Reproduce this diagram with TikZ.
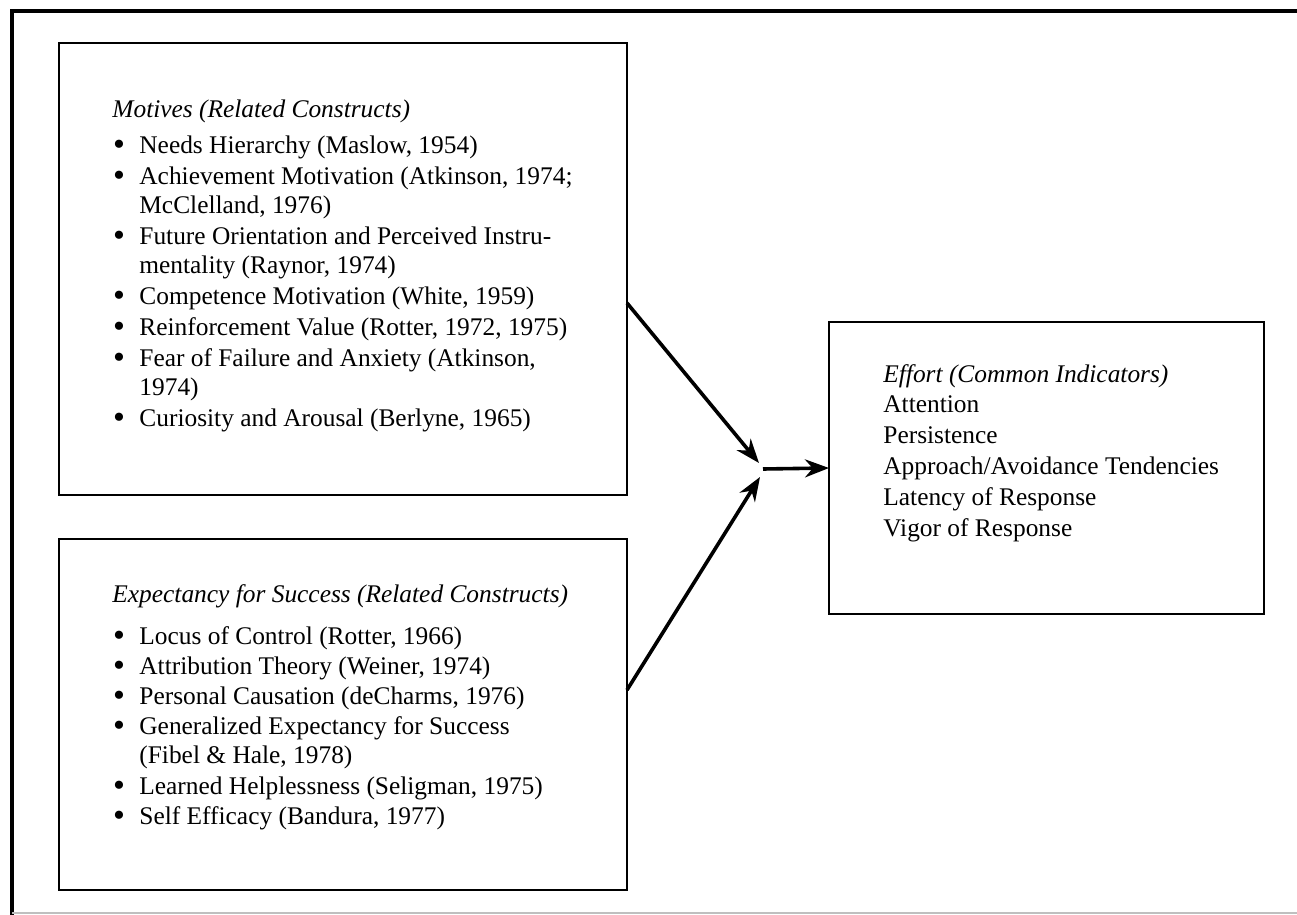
\documentclass[tikz,border=0pt]{standalone}
\usepackage{fontspec}
\setmainfont{Liberation Serif}
\usetikzlibrary{arrows.meta}

\newcommand{\bul}{\makebox[13.5pt][l]{\hspace{0.4pt}\smash{\raisebox{-1.2pt}{\fontsize{17}{0}\selectfont\textbullet}}}}
\newcommand{\ind}{\hspace*{13.5pt}}

\begin{document}
\begin{tikzpicture}[x=0.5pt,y=-0.5pt,
  box/.style={draw, line width=1.2pt, inner sep=0pt, outer sep=0pt, anchor=north west},
  txt/.style={anchor=north west, inner sep=0pt, align=left,
    font=\fontsize{12.7}{14.5}\selectfont},
  arr/.style={line width=1.8pt, -{Stealth[length=12pt,width=9pt]}}]

\useasboundingbox (0,0) rectangle (1297,915);

% Frame
\draw[line width=2pt] (12,915) -- (12,11) -- (1297,11);
\draw[line width=0.6pt, black!25] (12,913) -- (1297,913);

% Boxes
\node[box, minimum width=284pt, minimum height=226pt] (motives) at (59,43) {};
\node[box, minimum width=284pt, minimum height=175.5pt] (expect) at (59,539) {};
\node[box, minimum width=217.5pt, minimum height=146pt] (effort) at (829,322) {};

% Texts
\node[txt] (motlist) at (112,99) {\textit{Motives (Related Constructs)}\\[3.5pt]
  \bul Needs Hierarchy (Maslow, 1954)\\[1pt]
  \bul Achievement Motivation (Atkinson, 1974;\\
  \ind McClelland, 1976)\\[1pt]
  \bul Future Orientation and Perceived Instru-\\
  \ind mentality (Raynor, 1974)\\[1pt]
  \bul Competence Motivation (White, 1959)\\[1pt]
  \bul Reinforcement Value (Rotter, 1972, 1975)\\[1pt]
  \bul Fear of Failure and Anxiety (Atkinson,\\
  \ind 1974)\\[1pt]
  \bul Curiosity and Arousal (Berlyne, 1965)};

\node[txt] (explist) at (112,584) {\textit{Expectancy for Success (Related Constructs)}\\[6.5pt]
  \bul Locus of Control (Rotter, 1966)\\[0.5pt]
  \bul Attribution Theory (Weiner, 1974)\\[0.5pt]
  \bul Personal Causation (deCharms, 1976)\\[0.5pt]
  \bul Generalized Expectancy for Success\\
  \ind (Fibel \& Hale, 1978)\\[1pt]
  \bul Learned Helplessness (Seligman, 1975)\\[0.5pt]
  \bul Self Efficacy (Bandura, 1977)};

\node[txt] (efflist) at (883,364) {\textit{Effort (Common Indicators)}\\[0.5pt]
  Attention\\[1pt]
  Persistence\\[1pt]
  Approach/Avoidance Tendencies\\[1pt]
  Latency of Response\\[1pt]
  Vigor of Response};

% Arrows
\coordinate (join) at (761,469);
\draw[arr] ([yshift=-17pt]motives.east) -- ([shift={(-2,-6)}]join);
\draw[arr] ([yshift=12.25pt]expect.east) -- ([shift={(-1,8)}]join);
\draw[arr] ([xshift=1pt]join) -- (effort.west);

\end{tikzpicture}
\end{document}
